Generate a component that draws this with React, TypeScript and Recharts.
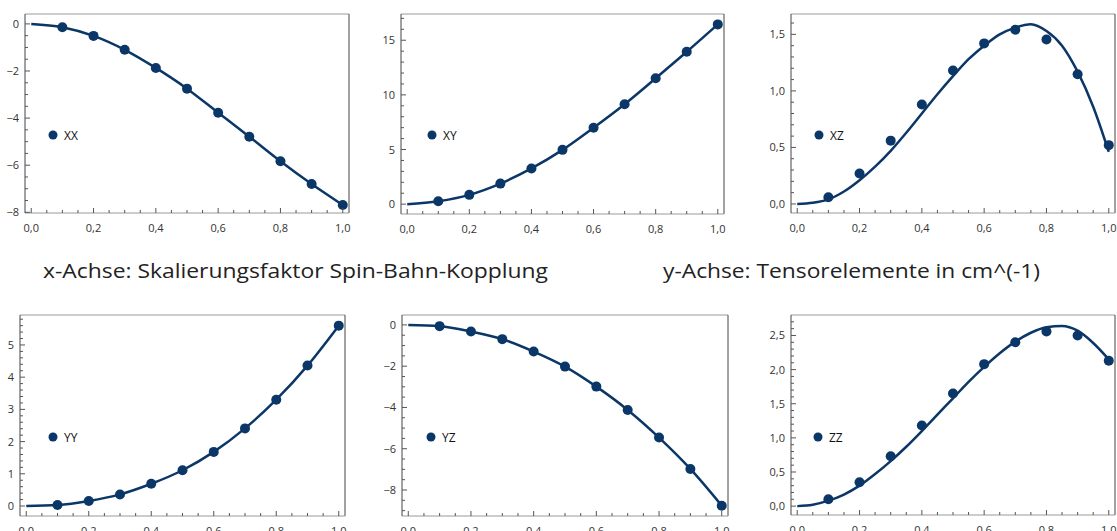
import React from 'react';
import { ComposedChart, Line, Scatter, XAxis, YAxis, ReferenceLine } from 'recharts';

const NAVY = '#0b3768';
const FONT = '"Open Sans", "DejaVu Sans", sans-serif';

// x values of the computed points
const pointX = [0.1, 0.2, 0.3, 0.4, 0.5, 0.6, 0.7, 0.8, 0.9, 1.0];
const fitX10 = [0, 0.1, 0.2, 0.3, 0.4, 0.5, 0.6, 0.7, 0.8, 0.9, 1.0];
const fitX05 = [0, 0.05, 0.1, 0.15, 0.2, 0.25, 0.3, 0.35, 0.4, 0.45, 0.5, 0.55, 0.6, 0.65, 0.7, 0.75, 0.8, 0.85, 0.9, 0.95, 1.0];

// series values
const xxPoints = [-0.14, -0.51, -1.10, -1.87, -2.75, -3.77, -4.79, -5.83, -6.80, -7.69];
const xxFit = [0, -0.14, -0.51, -1.10, -1.87, -2.75, -3.77, -4.79, -5.83, -6.80, -7.69];

const xyPoints = [0.27, 0.85, 1.88, 3.27, 4.97, 7.0, 9.15, 11.52, 13.94, 16.45];
const xyFit = [0, 0.27, 0.85, 1.88, 3.27, 4.97, 7.0, 9.15, 11.52, 13.94, 16.45];

const xzPoints = [0.06, 0.27, 0.56, 0.88, 1.18, 1.42, 1.54, 1.455, 1.147, 0.52];
const xzFit = [0, 0.01, 0.04, 0.11, 0.21, 0.33, 0.47, 0.63, 0.80, 0.97, 1.13, 1.28, 1.40, 1.50, 1.56, 1.59, 1.53, 1.40, 1.17, 0.86, 0.46];

const yyPoints = [0.03, 0.155, 0.36, 0.69, 1.11, 1.68, 2.41, 3.30, 4.36, 5.60];
const yyFit = [0, 0.03, 0.155, 0.36, 0.69, 1.11, 1.68, 2.41, 3.30, 4.36, 5.60];

const yzPoints = [-0.06, -0.32, -0.69, -1.29, -2.02, -2.99, -4.12, -5.46, -6.98, -8.76];
const yzFit = [0, -0.06, -0.32, -0.69, -1.29, -2.02, -2.99, -4.12, -5.46, -6.98, -8.76];

const zzPoints = [0.10, 0.35, 0.73, 1.18, 1.65, 2.08, 2.40, 2.56, 2.50, 2.13];
const zzFit = [0, 0.02, 0.08, 0.17, 0.30, 0.47, 0.66, 0.87, 1.10, 1.34, 1.58, 1.82, 2.04, 2.24, 2.41, 2.54, 2.62, 2.64, 2.57, 2.39, 2.15];

// tick labels
const xMajor = [0, 0.2, 0.4, 0.6, 0.8, 1.0];
const yMajorXX = [-8, -6, -4, -2, 0];
const yMajorXY = [0, 5, 10, 15];
const yMajorXZ = [0, 0.5, 1.0, 1.5];
const yMajorYY = [0, 1, 2, 3, 4, 5];
const yMajorYZ = [-8, -6, -4, -2, 0];
const yMajorZZ = [0, 0.5, 1.0, 1.5, 2.0, 2.5];

const seriesNames = ['XX', 'XY', 'XZ', 'YY', 'YZ', 'ZZ'];

const rows = (xs: number[], ys: number[]) => xs.map((x, i) => ({ x, y: ys[i] }));
const r6 = (v: number) => Math.round(v * 1e6) / 1e6;
const range = (a: number, b: number, s: number) => {
  const out: number[] = [];
  const n = Math.round((b - a) / s);
  for (let i = 0; i <= n; i++) out.push(r6(a + i * s));
  return out;
};
const isIn = (v: number, arr: number[]) => arr.some((m) => Math.abs(m - v) < 1e-6);
const fmtDec = (v: number) => (v < 0 ? '\u2212' : '') + Math.abs(v).toFixed(1).replace('.', ',');
const fmtInt = (v: number) => (v < 0 ? '\u2212' : '') + String(Math.abs(Math.round(v)));

const xAll = range(0, 1, 0.05);

type Cfg = {
  name: string;
  frame: { L: number; R: number; T: number; B: number };
  yDomain: [number, number];
  yMajor: number[];
  yAll: number[];
  yFmt: (v: number) => string;
  fit: { x: number; y: number }[];
  pts: { x: number; y: number }[];
  legend: { x: number; y: number };
};

const xDomain: [number, number] = [-0.02, 1.02];

const panels: Cfg[] = [
  {
    name: seriesNames[0], frame: { L: 25, R: 349, T: 14, B: 213 }, yDomain: [-8.03, 0.42],
    yMajor: yMajorXX, yAll: range(-8, 0, 0.5), yFmt: fmtInt,
    fit: rows(fitX10, xxFit), pts: rows(pointX, xxPoints), legend: { x: 53, y: 135 },
  },
  {
    name: seriesNames[1], frame: { L: 401, R: 724, T: 14, B: 214 }, yDomain: [-0.9, 17.4],
    yMajor: yMajorXY, yAll: range(0, 17, 1), yFmt: fmtInt,
    fit: rows(fitX10, xyFit), pts: rows(pointX, xyPoints), legend: { x: 432, y: 135 },
  },
  {
    name: seriesNames[2], frame: { L: 791, R: 1115, T: 14, B: 213 }, yDomain: [-0.08, 1.68],
    yMajor: yMajorXZ, yAll: range(0, 1.6, 0.1), yFmt: fmtDec,
    fit: rows(fitX05, xzFit), pts: rows(pointX, xzPoints), legend: { x: 819, y: 135 },
  },
  {
    name: seriesNames[3], frame: { L: 20, R: 345, T: 315, B: 516 }, yDomain: [-0.31, 5.93],
    yMajor: yMajorYY, yAll: range(0, 5.8, 0.2), yFmt: fmtInt,
    fit: rows(fitX10, yyFit), pts: rows(pointX, yyPoints), legend: { x: 53, y: 437 },
  },
  {
    name: seriesNames[4], frame: { L: 402, R: 728, T: 315, B: 516 }, yDomain: [-9.26, 0.48],
    yMajor: yMajorYZ, yAll: range(-9, 0, 0.5), yFmt: fmtInt,
    fit: rows(fitX10, yzFit), pts: rows(pointX, yzPoints), legend: { x: 431, y: 437 },
  },
  {
    name: seriesNames[5], frame: { L: 791, R: 1115, T: 315, B: 515 }, yDomain: [-0.13, 2.8],
    yMajor: yMajorZZ, yAll: range(0, 2.7, 0.1), yFmt: fmtDec,
    fit: rows(fitX05, zzFit), pts: rows(pointX, zzPoints), legend: { x: 818, y: 437 },
  },
];

const Dot = (props: any) => {
  const { cx, cy } = props;
  if (cx == null || cy == null) return null;
  return <circle cx={cx} cy={cy} r={5} fill={NAVY} />;
};

function Panel({ cfg }: { cfg: Cfg }) {
  const { L, R, T, B } = cfg.frame;
  const ML = 40, MT = 10, MR = 10, XH = 25;
  const w = R - L + ML + MR;
  const h = B - T + MT + XH;

  const xTick = (p: any) => {
    const { x, y, payload } = p;
    const v = payload.value;
    const major = isIn(v, xMajor);
    return (
      <g>
        <line x1={x} x2={x} y1={y} y2={y - (major ? 5 : 3)} stroke="#555" strokeWidth={1} />
        {major && (
          <text x={x} y={y + 19} textAnchor="middle" fontSize={11} fontFamily={FONT} fill="#333">
            {fmtDec(v)}
          </text>
        )}
      </g>
    );
  };
  const yTick = (p: any) => {
    const { x, y, payload } = p;
    const v = payload.value;
    const major = isIn(v, cfg.yMajor);
    return (
      <g>
        <line x1={x} x2={x + (major ? 5 : 3)} y1={y} y2={y} stroke="#555" strokeWidth={1} />
        {major && (
          <text x={x - 6} y={y + 4} textAnchor="end" fontSize={11} fontFamily={FONT} fill="#333">
            {cfg.yFmt(v)}
          </text>
        )}
      </g>
    );
  };

  return (
    <div style={{ position: 'absolute', left: L - ML, top: T - MT }}>
      <ComposedChart width={w} height={h} margin={{ top: MT, right: MR, left: 0, bottom: 0 }}>
        <XAxis
          type="number" dataKey="x" domain={xDomain} allowDataOverflow ticks={xAll} interval={0}
          tickSize={0} tickMargin={0} tickLine={false} axisLine={{ stroke: '#9a9a9a' }} tick={xTick} height={XH}
        />
        <YAxis
          type="number" dataKey="y" domain={cfg.yDomain} allowDataOverflow ticks={cfg.yAll} interval={0}
          tickSize={0} tickMargin={0} tickLine={false} axisLine={{ stroke: '#444' }} tick={yTick} width={ML}
        />
        <ReferenceLine y={cfg.yDomain[1]} stroke="#9a9a9a" />
        <ReferenceLine x={xDomain[1]} stroke="#444" />
        <Line
          data={cfg.fit} dataKey="y" type="monotone" stroke={NAVY} strokeWidth={2.5}
          dot={false} activeDot={false} isAnimationActive={false}
        />
        <Scatter data={cfg.pts} dataKey="y" fill={NAVY} shape={Dot} isAnimationActive={false} />
      </ComposedChart>
    </div>
  );
}

export default function App() {
  return (
    <div style={{ position: 'absolute', left: 0, top: 0, width: 1117, height: 531, overflow: 'hidden', background: '#fff' }}>
      {panels.map((p) => (
        <Panel key={p.name} cfg={p} />
      ))}
      <svg width={1117} height={531} style={{ position: 'absolute', left: 0, top: 0, pointerEvents: 'none' }}>
        {panels.map((p) => (
          <g key={p.name}>
            <circle cx={p.legend.x} cy={p.legend.y} r={4.5} fill={NAVY} />
            <text x={p.legend.x + 11} y={p.legend.y + 4.5} fontSize={12} fontFamily={FONT} fill="#111">
              {p.name}
            </text>
          </g>
        ))}
        <text x={43} y={278} fontSize={20} fontFamily={FONT} fill="#222" textLength={505} lengthAdjust="spacingAndGlyphs">
          x-Achse: Skalierungsfaktor Spin-Bahn-Kopplung
        </text>
        <text x={663} y={278} fontSize={20} fontFamily={FONT} fill="#222" textLength={377} lengthAdjust="spacingAndGlyphs">
          y-Achse: Tensorelemente in cm^(-1)
        </text>
      </svg>
    </div>
  );
}
